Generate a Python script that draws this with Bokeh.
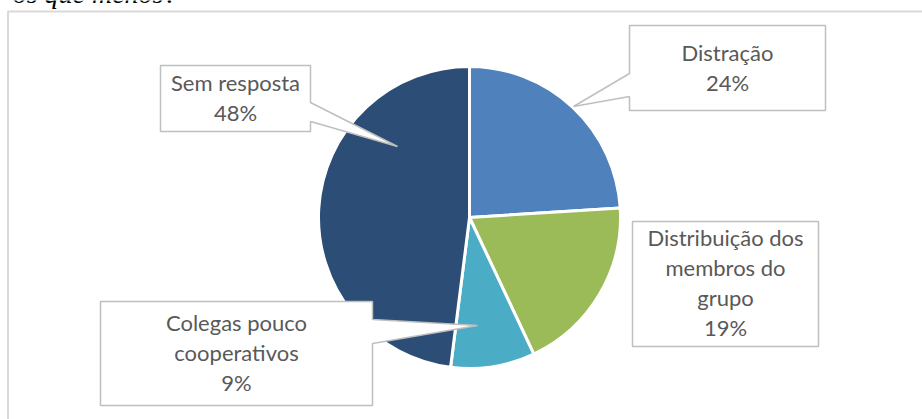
import math
from bokeh.plotting import figure
from bokeh.models import Range1d
from bokeh.core.properties import value
from bokeh.embed import file_html
from bokeh.resources import INLINE

# ---- data ----
categories = ["Distração", "Distribuição dos\nmembros do\ngrupo", "Colegas pouco\ncooperativos", "Sem resposta"]
percent = [24, 19, 9, 48]
colors = ["#4F81BD", "#9BBB59", "#4BACC6", "#2C4D75"]
question_tail = "os que menos?"

# ---- layout (page pixel coordinates, y downward) ----
W, H = 922, 419
CX, CY, R = 469, 217, 151
TEXT_DY = -10  # renderer places alphabetic baseline a little low
label_anchor = [(727, 62), (725, 247), (236, 332), (235, 92)]  # centre x, first baseline
LINE_GAP = 30
callouts = [
    [(629, 25), (825, 25), (825, 110), (629, 110), (629, 96), (573, 106), (629, 73)],
    [(632, 221), (818, 221), (818, 346), (632, 346)],
    [(100, 301), (372, 301), (372, 319), (477, 325), (372, 343), (372, 405), (100, 405)],
    [(160, 65), (310, 65), (310, 102), (397, 146), (310, 121), (310, 131), (160, 131)],
]


def Y(y):
    return H - y


p = figure(width=W, height=H, x_range=Range1d(0, W), y_range=Range1d(0, H),
           output_backend="svg", toolbar_location=None, min_border=0)
p.xaxis.visible = False
p.yaxis.visible = False
p.grid.visible = False
p.outline_line_color = None
p.background_fill_color = "white"
p.border_fill_color = "white"

# outer frame of the chart area
p.line([7.5, 7.5, W], [Y(440), Y(11), Y(11)], line_color="#D9D9D9", line_width=2)

# question text cut off at the top
p.text(x=[177], y=[Y(3 + TEXT_DY)], text=[question_tail], text_align="right", text_baseline="alphabetic",
       text_font=value("Liberation Serif"), text_font_style="italic", text_font_size="28px",
       text_color="#000000")

# pie
total = sum(percent)
starts, ends = [], []
cum = 0
for v in percent:
    starts.append(math.pi / 2 - 2 * math.pi * cum / total)
    cum += v
    ends.append(math.pi / 2 - 2 * math.pi * cum / total)

p.wedge(x=[CX] * len(percent), y=[Y(CY)] * len(percent), radius=R,
        start_angle=starts, end_angle=ends, direction="clock",
        fill_color=colors, line_color="white", line_width=3)

# callouts
p.patches(xs=[[pt[0] for pt in c] for c in callouts],
          ys=[[Y(pt[1]) for pt in c] for c in callouts],
          fill_color="white", line_color="#BFBFBF", line_width=1.5)

tx, ty, tt = [], [], []
for cat, v, (ax, ay) in zip(categories, percent, label_anchor):
    lines = cat.split("\n") + [f"{v}%"]
    for i, ln in enumerate(lines):
        tx.append(ax)
        ty.append(Y(ay + i * LINE_GAP + TEXT_DY))
        tt.append(ln)
p.text(x=tx, y=ty, text=tt, text_align="center", text_baseline="alphabetic",
       text_font=value("Lato"), text_font_size="22px", text_color="#595959")

open("out.html", "w").write(file_html(p, INLINE))
